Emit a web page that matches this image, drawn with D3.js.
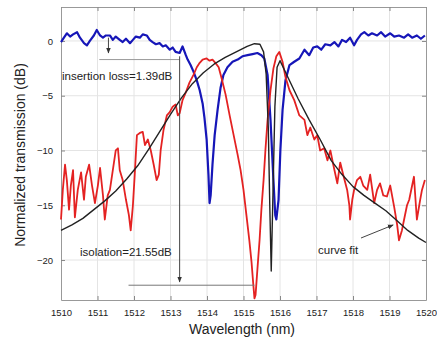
<!DOCTYPE html>
<html>
<head>
<meta charset="utf-8">
<script src="https://cdn.jsdelivr.net/npm/d3@7"></script>
<style>
  body { margin: 0; background: #fff; }
  svg { display: block; }
  text { font-family: "Liberation Sans", Arial, sans-serif; fill: #222; }
</style>
</head>
<body>
<div id="chart"></div>
<script>
// measured through port (blue)
const blueWl = [1510.00,1510.08,1510.16,1510.25,1510.33,1510.44,1510.52,1510.63,1510.71,1510.79,1510.90,1510.98,1511.07,1511.15,1511.23,1511.34,1511.42,1511.50,1511.61,1511.69,1511.78,1511.89,1511.97,1512.05,1512.16,1512.24,1512.35,1512.43,1512.51,1512.60,1512.70,1512.79,1512.87,1512.98,1513.06,1513.14,1513.25,1513.33,1513.42,1513.47,1513.55,1513.63,1513.72,1513.80,1513.88,1513.93,1513.99,1514.04,1514.07,1514.10,1514.15,1514.21,1514.29,1514.37,1514.45,1514.56,1514.70,1514.84,1514.97,1515.11,1515.25,1515.38,1515.49,1515.57,1515.66,1515.74,1515.82,1515.87,1515.90,1515.96,1516.01,1516.07,1516.15,1516.26,1516.39,1516.53,1516.67,1516.80,1516.91,1517.02,1517.13,1517.24,1517.38,1517.49,1517.60,1517.70,1517.81,1517.92,1518.03,1518.11,1518.22,1518.31,1518.42,1518.52,1518.66,1518.77,1518.88,1519.02,1519.13,1519.26,1519.40,1519.51,1519.62,1519.75,1519.86,1519.97];
const blueDb = [-0.1,0.3,0.7,0.4,0.6,0.8,0.3,-0.2,-0.4,0.0,0.5,1.0,0.5,0.3,0.5,0.5,0.1,0.4,0.1,-0.1,0.2,-0.2,0.1,0.4,0.3,0.6,0.5,0.1,-0.1,-0.3,-0.2,-0.5,-0.4,-0.8,-0.6,-1.0,-1.1,-0.5,-1.3,-1.7,-2.2,-2.8,-3.6,-4.5,-5.7,-7.0,-9.0,-12.2,-14.8,-14.1,-11.3,-8.6,-6.3,-4.3,-3.1,-2.4,-1.9,-1.7,-1.4,-1.3,-1.2,-1.1,-1.3,-1.6,-3.1,-7.2,-12.7,-15.9,-16.3,-14.5,-10.0,-6.3,-3.6,-2.2,-1.9,-1.6,-0.8,-1.3,-0.6,-0.5,-0.8,-0.3,-0.4,-0.1,-0.5,0.1,-0.1,0.3,-0.4,0.1,0.6,0.8,0.5,0.7,0.5,0.8,0.4,0.7,0.4,0.5,0.3,0.6,0.3,0.5,0.2,0.5];

// measured drop port (red)
const redWl = [1510.00,1510.05,1510.11,1510.16,1510.22,1510.27,1510.33,1510.38,1510.46,1510.55,1510.63,1510.68,1510.77,1510.85,1510.93,1511.01,1511.07,1511.15,1511.20,1511.28,1511.34,1511.42,1511.50,1511.56,1511.61,1511.69,1511.78,1511.86,1511.91,1511.97,1512.02,1512.08,1512.16,1512.24,1512.30,1512.38,1512.46,1512.54,1512.62,1512.68,1512.73,1512.81,1512.90,1512.98,1513.06,1513.14,1513.20,1513.25,1513.33,1513.42,1513.52,1513.63,1513.72,1513.80,1513.88,1513.99,1514.07,1514.15,1514.23,1514.32,1514.40,1514.51,1514.62,1514.73,1514.84,1514.92,1515.00,1515.08,1515.16,1515.22,1515.27,1515.30,1515.33,1515.38,1515.44,1515.49,1515.55,1515.60,1515.66,1515.74,1515.82,1515.90,1515.98,1516.07,1516.15,1516.26,1516.39,1516.53,1516.67,1516.75,1516.83,1516.94,1517.02,1517.10,1517.21,1517.30,1517.38,1517.46,1517.57,1517.65,1517.73,1517.84,1517.90,1517.92,1517.98,1518.03,1518.11,1518.20,1518.28,1518.39,1518.47,1518.58,1518.66,1518.74,1518.83,1518.93,1519.02,1519.13,1519.21,1519.26,1519.34,1519.40,1519.48,1519.54,1519.62,1519.67,1519.75,1519.84,1519.89,1519.97];
const redDb = [-16.3,-13.6,-11.3,-12.7,-15.4,-13.2,-11.8,-16.1,-13.6,-12.0,-14.5,-12.4,-11.3,-13.2,-14.8,-13.2,-11.6,-14.1,-16.3,-14.1,-13.6,-11.8,-10.0,-9.8,-11.8,-12.7,-14.5,-15.9,-17.3,-15.0,-12.2,-8.6,-8.4,-8.3,-9.5,-9.0,-10.0,-11.3,-12.7,-12.2,-10.0,-8.1,-6.8,-6.5,-6.0,-5.8,-6.8,-6.6,-5.4,-4.7,-3.8,-3.1,-2.4,-2.0,-1.7,-1.6,-1.8,-1.7,-2.0,-2.4,-3.4,-4.9,-6.8,-8.6,-10.4,-11.8,-13.6,-15.9,-18.2,-20.2,-22.3,-23.5,-23.2,-20.9,-18.2,-15.4,-12.7,-10.0,-7.2,-4.5,-2.5,-1.4,-1.0,-1.9,-3.3,-4.5,-5.4,-6.8,-7.2,-8.6,-7.9,-9.0,-8.6,-10.0,-9.8,-10.9,-10.0,-11.3,-13.0,-11.1,-12.2,-13.6,-15.0,-16.3,-14.5,-13.6,-12.7,-12.4,-13.2,-13.6,-12.2,-14.8,-13.6,-13.0,-14.1,-14.2,-13.2,-15.2,-16.8,-18.2,-17.3,-16.3,-15.0,-14.5,-13.2,-12.4,-16.3,-14.5,-13.6,-12.7];

// curve fit (black)
const fitWl = [1510.0,1510.3,1510.6,1510.9,1511.2,1511.5,1511.8,1512.1,1512.4,1512.7,1513.0,1513.3,1513.6,1513.9,1514.2,1514.5,1514.8,1515.1,1515.3,1515.45,1515.55,1515.62,1515.68,1515.72,1515.76,1515.8,1515.86,1515.92,1516.0,1516.2,1516.5,1516.8,1517.1,1517.4,1517.7,1518.0,1518.3,1518.6,1518.9,1519.2,1519.5,1519.8,1520.0];
const fitDb = [-17.3,-16.8,-16.2,-15.4,-14.6,-13.7,-12.6,-11.4,-9.9,-8.3,-6.7,-5.2,-3.9,-2.9,-2.1,-1.5,-1.0,-0.5,-0.25,-0.3,-1.0,-3.0,-8.0,-15.0,-21.0,-15.0,-6.0,-2.4,-1.8,-3.2,-5.3,-7.2,-9.0,-10.9,-12.2,-13.3,-14.1,-14.8,-15.5,-16.4,-17.3,-18.0,-18.4];

const xTicks = [1510,1511,1512,1513,1514,1515,1516,1517,1518,1519,1520];
const yTicks = [0,-5,-10,-15,-20];

const width = 437, height = 341;
const margin = { top: 7, right: 11, bottom: 41, left: 61 };

const svg = d3.select("#chart").append("svg")
  .attr("width", width)
  .attr("height", height);

const x = d3.scaleLinear().domain([1510, 1520]).range([margin.left, width - margin.right]);
const y = d3.scaleLinear().domain([-23.65, 3.1]).range([height - margin.bottom, margin.top]);

// grid
svg.append("g")
  .selectAll("line")
  .data(xTicks.slice(1, -1))
  .join("line")
  .attr("x1", d => x(d)).attr("x2", d => x(d))
  .attr("y1", margin.top).attr("y2", height - margin.bottom)
  .attr("stroke", "#e4e4e4");

svg.append("g")
  .selectAll("line")
  .data(yTicks)
  .join("line")
  .attr("x1", margin.left).attr("x2", width - margin.right)
  .attr("y1", d => y(d)).attr("y2", d => y(d))
  .attr("stroke", "#e4e4e4");

// axes, ticks inside like matlab
const xAxis = svg.append("g")
  .attr("transform", `translate(0,${height - margin.bottom})`)
  .call(d3.axisBottom(x).tickValues(xTicks).tickFormat(d3.format("d")).tickSizeInner(-4).tickSizeOuter(0).tickPadding(9));
const xAxisTop = svg.append("g")
  .attr("transform", `translate(0,${margin.top})`)
  .call(d3.axisTop(x).tickValues(xTicks).tickFormat("").tickSizeInner(-4).tickSizeOuter(0));
const yAxis = svg.append("g")
  .attr("transform", `translate(${margin.left},0)`)
  .call(d3.axisLeft(y).tickValues(yTicks).tickSizeInner(-4).tickSizeOuter(0).tickPadding(8));
const yAxisRight = svg.append("g")
  .attr("transform", `translate(${width - margin.right},0)`)
  .call(d3.axisRight(y).tickValues(yTicks).tickFormat("").tickSizeInner(-4).tickSizeOuter(0));

[xAxis, xAxisTop, yAxis, yAxisRight].forEach(g => {
  g.select(".domain").attr("stroke", "#999");
  g.selectAll(".tick line").attr("stroke", "#888");
  g.selectAll(".tick text").attr("font-size", 9.5).attr("fill", "#333")
    .attr("font-family", "'Liberation Sans', Arial, sans-serif");
});

// lines
const line = (xs, ys) => d3.line()
  .x((d, i) => x(xs[i]))
  .y(d => y(d))(ys);

svg.append("path")
  .attr("d", line(blueWl, blueDb))
  .attr("fill", "none")
  .attr("stroke", "#1616b8")
  .attr("stroke-width", 2.2)
  .attr("stroke-linejoin", "round");

svg.append("path")
  .attr("d", line(redWl, redDb))
  .attr("fill", "none")
  .attr("stroke", "#e42222")
  .attr("stroke-width", 1.8)
  .attr("stroke-linejoin", "round");

svg.append("path")
  .attr("d", line(fitWl, fitDb))
  .attr("fill", "none")
  .attr("stroke", "#222")
  .attr("stroke-width", 1.4)
  .attr("stroke-linejoin", "round");

// arrowhead
svg.append("defs").append("marker")
  .attr("id", "arr")
  .attr("viewBox", "0 0 10 10")
  .attr("refX", 9).attr("refY", 5)
  .attr("markerWidth", 6).attr("markerHeight", 6)
  .attr("orient", "auto")
  .append("path")
  .attr("d", "M0,1 L10,5 L0,9 Z")
  .attr("fill", "#333");

// insertion loss annotation
svg.append("line")
  .attr("x1", x(1511.3)).attr("x2", x(1511.3))
  .attr("y1", y(0.3)).attr("y2", y(-1.1))
  .attr("stroke", "#444").attr("marker-end", "url(#arr)");
svg.append("line")
  .attr("x1", x(1511.05)).attr("x2", x(1513.25))
  .attr("y1", y(-1.7)).attr("y2", y(-1.7))
  .attr("stroke", "#999");
svg.append("text")
  .attr("x", 62).attr("y", 80)
  .attr("font-size", 11.5)
  .text("insertion loss=1.39dB");

// isolation annotation
svg.append("line")
  .attr("x1", x(1513.25)).attr("x2", x(1513.25))
  .attr("y1", y(-1.4)).attr("y2", y(-22.0))
  .attr("stroke", "#444").attr("marker-end", "url(#arr)");
svg.append("line")
  .attr("x1", x(1511.85)).attr("x2", x(1515.3))
  .attr("y1", y(-22.3)).attr("y2", y(-22.3))
  .attr("stroke", "#777");
svg.append("text")
  .attr("x", 80).attr("y", 256)
  .attr("font-size", 11.5)
  .text("isolation=21.55dB");

// curve fit label
svg.append("text")
  .attr("x", 318).attr("y", 254)
  .attr("font-size", 11.5)
  .text("curve fit");
svg.append("line")
  .attr("x1", 361).attr("y1", 238)
  .attr("x2", x(1519.1)).attr("y2", y(-16.8))
  .attr("stroke", "#444").attr("marker-end", "url(#arr)");

// axis labels
svg.append("text")
  .attr("x", 242)
  .attr("y", 334)
  .attr("text-anchor", "middle")
  .attr("font-size", 14)
  .text("Wavelength (nm)");

svg.append("text")
  .attr("transform", `translate(25,155) rotate(-90)`)
  .attr("text-anchor", "middle")
  .attr("font-size", 14)
  .text("Normalized transmission (dB)");
</script>
</body>
</html>
